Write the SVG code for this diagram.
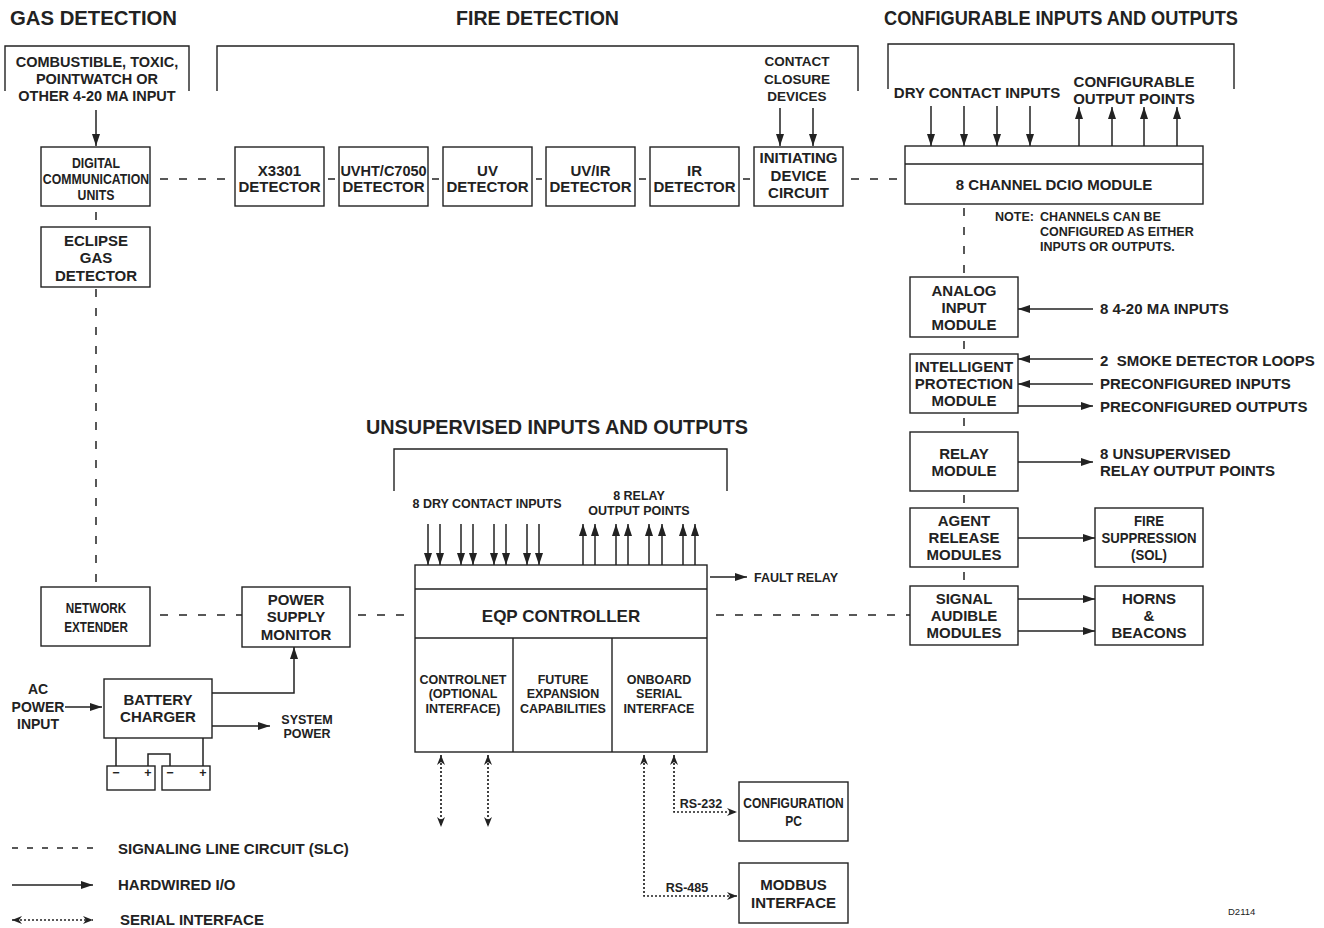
<svg xmlns="http://www.w3.org/2000/svg" width="1324" height="928" viewBox="0 0 1324 928">
<defs>
<style>
.bg{fill:#fff}
.b{fill:#fff;stroke:#222;stroke-width:1.4}
.br{fill:none;stroke:#222;stroke-width:1.4}
text{font-family:"Liberation Sans",Arial,Helvetica,sans-serif;font-weight:bold;fill:#222}
.c{text-anchor:middle}
.h{font-size:19.5px}
.m{font-size:15px}
.n{font-size:14.5px}
.s{font-size:12.5px}
.w{fill:none;stroke:#222;stroke-width:1.5}
.a{marker-end:url(#ah)}
.d{fill:none;stroke:#222;stroke-width:1.5;stroke-dasharray:8 11}
.sr{fill:none;stroke:#222;stroke-width:1.7;stroke-dasharray:2 2;marker-start:url(#sh);marker-end:url(#sh)}
</style>
<marker id="ah" viewBox="0 0 12 8" refX="12" refY="4" markerWidth="12" markerHeight="8" markerUnits="userSpaceOnUse" orient="auto"><path d="M0,0 L12,4 L0,8 Z" fill="#222"/></marker>
<marker id="sh" viewBox="0 0 10 8" refX="10" refY="4" markerWidth="10" markerHeight="8" markerUnits="userSpaceOnUse" orient="auto-start-reverse"><path d="M0,0 L10,4 L0,8 L3,4 Z" fill="#222"/></marker>
</defs>
<rect class="bg" x="0" y="0" width="1324" height="928"/>

<g id="headers">
<text class="h" x="10" y="25" textLength="167" lengthAdjust="spacingAndGlyphs">GAS DETECTION</text>
<text class="h" x="456" y="25" textLength="163" lengthAdjust="spacingAndGlyphs">FIRE DETECTION</text>
<text class="h" x="884" y="25" textLength="354" lengthAdjust="spacingAndGlyphs">CONFIGURABLE INPUTS AND OUTPUTS</text>
<text class="h" x="366" y="434" textLength="382" lengthAdjust="spacingAndGlyphs">UNSUPERVISED INPUTS AND OUTPUTS</text>
</g>

<g id="brackets">
<path class="br" d="M5,91 V46 H189 V91"/>
<path class="br" d="M217,91 V46 H858 V91"/>
<path class="br" d="M888,89 V44 H1234 V89"/>
<path class="br" d="M394,491 V449 H727 V491"/>
</g>

<g id="labels">
<text class="n c" x="97" y="67">COMBUSTIBLE, TOXIC,</text>
<text class="n c" x="97" y="84">POINTWATCH OR</text>
<text class="n c" x="97" y="101">OTHER 4-20 MA INPUT</text>
<text class="c" style="font-size:13.5px" x="797" y="66">CONTACT</text>
<text class="c" style="font-size:13.5px" x="797" y="84">CLOSURE</text>
<text class="c" style="font-size:13.5px" x="797" y="101">DEVICES</text>
<text class="m c" x="977" y="98">DRY CONTACT INPUTS</text>
<text class="m c" x="1134" y="87">CONFIGURABLE</text>
<text class="m c" x="1134" y="104">OUTPUT POINTS</text>
<text class="s" x="995" y="221">NOTE:</text>
<text class="s" x="1040" y="221">CHANNELS CAN BE</text>
<text class="s" x="1040" y="236">CONFIGURED AS EITHER</text>
<text class="s" x="1040" y="251">INPUTS OR OUTPUTS.</text>
<text class="m" x="1100" y="314">8 4-20 MA INPUTS</text>
<text class="m" x="1100" y="366">2&#160; SMOKE DETECTOR LOOPS</text>
<text class="m" x="1100" y="389">PRECONFIGURED INPUTS</text>
<text class="m" x="1100" y="412">PRECONFIGURED OUTPUTS</text>
<text class="m" x="1100" y="459">8 UNSUPERVISED</text>
<text class="m" x="1100" y="476">RELAY OUTPUT POINTS</text>
<text class="s c" x="487" y="508">8 DRY CONTACT INPUTS</text>
<text class="s c" x="639" y="500">8 RELAY</text>
<text class="s c" x="639" y="515">OUTPUT POINTS</text>
<text class="s" x="754" y="582">FAULT RELAY</text>
<text class="c" style="font-size:14px" x="38" y="694">AC</text>
<text class="c" style="font-size:14px" x="38" y="712">POWER</text>
<text class="c" style="font-size:14px" x="38" y="729">INPUT</text>
<text class="s c" x="307" y="724">SYSTEM</text>
<text class="s c" x="307" y="738">POWER</text>
<text class="s c" x="701" y="808">RS-232</text>
<text class="s c" x="687" y="892">RS-485</text>
<text class="m" x="118" y="854">SIGNALING LINE CIRCUIT (SLC)</text>
<text class="m" x="118" y="890">HARDWIRED I/O</text>
<text class="m" x="120" y="925">SERIAL INTERFACE</text>
<text style="font-size:9.5px;font-weight:normal" x="1228" y="915">D2114</text>
</g>

<g id="connectors">
<line class="d" x1="160" y1="179" x2="235" y2="179"/>
<line class="w" x1="328" y1="179" x2="335" y2="179"/>
<line class="w" x1="432" y1="179" x2="439" y2="179"/>
<line class="w" x1="536" y1="179" x2="542" y2="179"/>
<line class="w" x1="639" y1="179" x2="646" y2="179"/>
<line class="w" x1="743" y1="179" x2="750" y2="179"/>
<line class="d" x1="851" y1="179" x2="905" y2="179"/>
<line class="w" x1="96" y1="212" x2="96" y2="220"/>
<line class="d" x1="96" y1="289" x2="96" y2="587"/>
<line class="d" x1="160" y1="615" x2="242" y2="615"/>
<line class="d" x1="358" y1="615" x2="415" y2="615"/>
<line class="d" x1="716" y1="615" x2="910" y2="615"/>
<line class="d" x1="964" y1="208" x2="964" y2="277"/>
<line class="w" x1="964" y1="341" x2="964" y2="349"/>
<line class="w" x1="964" y1="418" x2="964" y2="426"/>
<line class="w" x1="964" y1="495" x2="964" y2="503"/>
<line class="w" x1="964" y1="572" x2="964" y2="580"/>
<line class="w a" x1="96" y1="110" x2="96" y2="146"/>
<line class="w a" x1="780" y1="108" x2="780" y2="146"/>
<line class="w a" x1="813" y1="108" x2="813" y2="146"/>
<line class="w a" x1="931" y1="106" x2="931" y2="146"/>
<line class="w a" x1="964" y1="106" x2="964" y2="146"/>
<line class="w a" x1="997" y1="106" x2="997" y2="146"/>
<line class="w a" x1="1030" y1="106" x2="1030" y2="146"/>
<line class="w a" x1="1079" y1="146" x2="1079" y2="107"/>
<line class="w a" x1="1112" y1="146" x2="1112" y2="107"/>
<line class="w a" x1="1144" y1="146" x2="1144" y2="107"/>
<line class="w a" x1="1177" y1="146" x2="1177" y2="107"/>
<line class="w a" x1="1093" y1="309" x2="1018" y2="309"/>
<line class="w a" x1="1093" y1="359" x2="1018" y2="359"/>
<line class="w a" x1="1093" y1="384" x2="1018" y2="384"/>
<line class="w a" x1="1018" y1="406" x2="1093" y2="406"/>
<line class="w a" x1="1018" y1="462" x2="1093" y2="462"/>
<line class="w a" x1="1018" y1="538" x2="1095" y2="538"/>
<line class="w a" x1="1018" y1="599" x2="1095" y2="599"/>
<line class="w a" x1="1018" y1="631" x2="1095" y2="631"/>
<line class="w a" x1="428" y1="524" x2="428" y2="565"/>
<line class="w a" x1="440" y1="524" x2="440" y2="565"/>
<line class="w a" x1="461" y1="524" x2="461" y2="565"/>
<line class="w a" x1="473" y1="524" x2="473" y2="565"/>
<line class="w a" x1="494" y1="524" x2="494" y2="565"/>
<line class="w a" x1="506" y1="524" x2="506" y2="565"/>
<line class="w a" x1="527" y1="524" x2="527" y2="565"/>
<line class="w a" x1="539" y1="524" x2="539" y2="565"/>
<line class="w a" x1="583" y1="565" x2="583" y2="524"/>
<line class="w a" x1="595" y1="565" x2="595" y2="524"/>
<line class="w a" x1="616" y1="565" x2="616" y2="524"/>
<line class="w a" x1="628" y1="565" x2="628" y2="524"/>
<line class="w a" x1="649" y1="565" x2="649" y2="524"/>
<line class="w a" x1="662" y1="565" x2="662" y2="524"/>
<line class="w a" x1="683" y1="565" x2="683" y2="524"/>
<line class="w a" x1="695" y1="565" x2="695" y2="524"/>
<line class="w a" x1="710" y1="577" x2="747" y2="577"/>
<line class="w a" x1="65" y1="707" x2="102" y2="707"/>
<path class="w a" d="M212,693 H294 V647"/>
<line class="w a" x1="212" y1="726" x2="270" y2="726"/>
<path class="w" d="M116,738 V766 M203,738 V766 M148,766 V754 H170 V766"/>
<line class="sr" x1="441" y1="755" x2="441" y2="827"/>
<line class="sr" x1="488" y1="755" x2="488" y2="827"/>
<path class="sr" d="M644,755 V896 H737"/>
<path class="sr" d="M674,755 V812 H737"/>
<line class="w" style="stroke-dasharray:6 9" x1="12" y1="848" x2="93" y2="848"/>
<line class="w a" x1="12" y1="885" x2="93" y2="885"/>
<line class="sr" x1="12" y1="920" x2="93" y2="920"/>
</g>

<g id="dcu">
<rect class="b" x="41" y="147" width="109" height="59"/>
<g transform="translate(96,0) scale(0.82,1)">
<text class="m c" x="0" y="168">DIGITAL</text>
<text class="m c" x="0" y="184">COMMUNICATION</text>
<text class="m c" x="0" y="200">UNITS</text>
</g>
</g>
<g id="eclipse">
<rect class="b" x="41" y="227" width="109" height="60"/>
<text class="m c" x="96" y="246">ECLIPSE</text>
<text class="m c" x="96" y="263">GAS</text>
<text class="m c" x="96" y="281">DETECTOR</text>
</g>
<g id="x3301">
<rect class="b" x="235" y="147" width="89" height="59"/>
<text class="m c" x="279.5" y="176">X3301</text>
<text class="m c" x="279.5" y="192">DETECTOR</text>
</g>
<g id="uvht">
<rect class="b" x="339" y="147" width="89" height="59"/>
<text class="n c" x="383.5" y="176">UVHT/C7050</text>
<text class="m c" x="383.5" y="192">DETECTOR</text>
</g>
<g id="uv">
<rect class="b" x="443" y="147" width="89" height="59"/>
<text class="m c" x="487.5" y="176">UV</text>
<text class="m c" x="487.5" y="192">DETECTOR</text>
</g>
<g id="uvir">
<rect class="b" x="546" y="147" width="89" height="59"/>
<text class="m c" x="590.5" y="176">UV/IR</text>
<text class="m c" x="590.5" y="192">DETECTOR</text>
</g>
<g id="ir">
<rect class="b" x="650" y="147" width="89" height="59"/>
<text class="m c" x="694.5" y="176">IR</text>
<text class="m c" x="694.5" y="192">DETECTOR</text>
</g>
<g id="idc">
<rect class="b" x="754" y="147" width="89" height="59"/>
<text class="m c" x="798.5" y="163">INITIATING</text>
<text class="m c" x="798.5" y="181">DEVICE</text>
<text class="m c" x="798.5" y="198">CIRCUIT</text>
</g>
<g id="dcio">
<rect class="b" x="905" y="146" width="298" height="58"/>
<line class="br" x1="905" y1="164" x2="1203" y2="164"/>
<text class="m c" x="1054" y="190">8 CHANNEL DCIO MODULE</text>
</g>
<g id="analog">
<rect class="b" x="910" y="277" width="108" height="60"/>
<text class="m c" x="964" y="296">ANALOG</text>
<text class="m c" x="964" y="313">INPUT</text>
<text class="m c" x="964" y="330">MODULE</text>
</g>
<g id="ipm">
<rect class="b" x="910" y="354" width="108" height="59"/>
<text class="m c" x="964" y="372">INTELLIGENT</text>
<text class="m c" x="964" y="389">PROTECTION</text>
<text class="m c" x="964" y="406">MODULE</text>
</g>
<g id="relay">
<rect class="b" x="910" y="432" width="108" height="59"/>
<text class="m c" x="964" y="459">RELAY</text>
<text class="m c" x="964" y="476">MODULE</text>
</g>
<g id="agent">
<rect class="b" x="910" y="508" width="108" height="59"/>
<text class="m c" x="964" y="526">AGENT</text>
<text class="m c" x="964" y="543">RELEASE</text>
<text class="m c" x="964" y="560">MODULES</text>
</g>
<g id="signal">
<rect class="b" x="910" y="586" width="108" height="59"/>
<text class="m c" x="964" y="604">SIGNAL</text>
<text class="m c" x="964" y="621">AUDIBLE</text>
<text class="m c" x="964" y="638">MODULES</text>
</g>
<g id="suppression">
<rect class="b" x="1095" y="508" width="108" height="59"/>
<g transform="translate(1149,0) scale(0.88,1)">
<text class="m c" x="0" y="526">FIRE</text>
<text class="m c" x="0" y="543">SUPPRESSION</text>
<text class="m c" x="0" y="560">(SOL)</text>
</g>
</g>
<g id="horns">
<rect class="b" x="1095" y="586" width="108" height="59"/>
<text class="m c" x="1149" y="604">HORNS</text>
<text class="m c" x="1149" y="621">&amp;</text>
<text class="m c" x="1149" y="638">BEACONS</text>
</g>
<g id="eqp">
<rect class="b" x="415" y="565" width="292" height="187"/>
<path class="br" d="M415,589 H707 M415,638 H707 M513,638 V752 M612,638 V752"/>
<text class="c" style="font-size:17px" x="561" y="622">EQP CONTROLLER</text>
<text class="s c" x="463" y="684">CONTROLNET</text>
<text class="s c" x="463" y="698">(OPTIONAL</text>
<text class="s c" x="463" y="713">INTERFACE)</text>
<text class="s c" x="563" y="684">FUTURE</text>
<text class="s c" x="563" y="698">EXPANSION</text>
<text class="s c" x="563" y="713">CAPABILITIES</text>
<text class="s c" x="659" y="684">ONBOARD</text>
<text class="s c" x="659" y="698">SERIAL</text>
<text class="s c" x="659" y="713">INTERFACE</text>
</g>
<g id="netext">
<rect class="b" x="41" y="587" width="109" height="59"/>
<g transform="translate(96,0) scale(0.78,1)">
<text class="m c" x="0" y="613">NETWORK</text>
<text class="m c" x="0" y="632">EXTENDER</text>
</g>
</g>
<g id="psm">
<rect class="b" x="242" y="587" width="108" height="60"/>
<text class="m c" x="296" y="605">POWER</text>
<text class="m c" x="296" y="622">SUPPLY</text>
<text class="m c" x="296" y="640">MONITOR</text>
</g>
<g id="charger">
<rect class="b" x="104" y="679" width="108" height="59"/>
<text class="m c" x="158" y="705">BATTERY</text>
<text class="m c" x="158" y="722">CHARGER</text>
</g>
<g id="batteries">
<rect class="b" x="107" y="766" width="48" height="24"/>
<rect class="b" x="162" y="766" width="48" height="24"/>
<text class="s c" x="116" y="777">−</text>
<text class="s c" x="148" y="777">+</text>
<text class="s c" x="170" y="777">−</text>
<text class="s c" x="203" y="777">+</text>
</g>
<g id="configpc">
<rect class="b" x="739" y="782" width="109" height="59"/>
<g transform="translate(793.5,0) scale(0.8,1)">
<text class="m c" x="0" y="808">CONFIGURATION</text>
<text class="m c" x="0" y="826">PC</text>
</g>
</g>
<g id="modbus">
<rect class="b" x="739" y="863" width="109" height="60"/>
<text class="m c" x="793.5" y="890">MODBUS</text>
<text class="m c" x="793.5" y="908">INTERFACE</text>
</g>
</svg>
